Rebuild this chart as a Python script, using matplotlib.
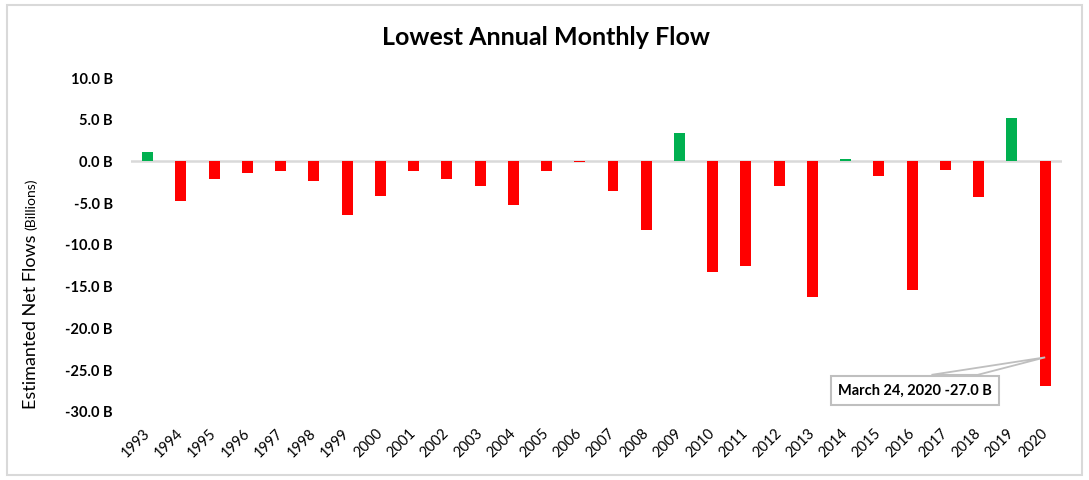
import numpy as np
import matplotlib
matplotlib.use('Agg')
import matplotlib.pyplot as plt
from matplotlib.patches import Rectangle

plt.rcParams['font.family'] = ['Lato', 'DejaVu Sans']

years = [str(y) for y in range(1993, 2021)]
flows = [1.0, -4.8, -2.2, -1.5, -1.2, -2.4, -6.5, -4.2, -1.2, -2.2,
         -3.1, -5.3, -1.3, -0.2, -3.6, -8.3, 3.3, -13.4, -12.6, -3.0,
         -16.4, 0.2, -1.8, -15.5, -1.1, -4.4, 5.1, -27.0]
yticks = [10, 5, 0, -5, -10, -15, -20, -25, -30]
note_text = 'March 24, 2020 -27.0 B'

colors = ['#00B050' if v > 0 else '#FF0000' for v in flows]
x = np.arange(len(years))

fig = plt.figure(figsize=(10.89, 4.81), dpi=100)
ax = fig.add_axes([0.1203, 0.1441, 0.8547, 0.6931])

ax.bar(x, flows, width=0.33, color=colors, zorder=3)
ax.axhline(0, color='#D9D9D9', linewidth=1.8, zorder=2)

ax.set_xlim(-0.5, len(years) - 0.5)
ax.set_ylim(-30, 10)
ax.set_yticks(yticks)
ax.set_yticklabels([f'{v:.1f} B' for v in yticks], fontweight='bold', fontsize=10.5)
ax.set_xticks(x)
ax.set_xticklabels(years, rotation=45, ha='right', va='center',
                   rotation_mode='anchor', fontsize=10.5)
ax.tick_params(axis='y', length=0, pad=13)
ax.tick_params(axis='x', length=0, pad=14)
for s in ax.spines.values():
    s.set_visible(False)

# callout for the 2020 low: pointer wedge + label box
ax.fill([23.58, x[-1], 24.97], [-25.7, -23.6, -25.7], fc='white',
        ec='#BFBFBF', lw=1.3, zorder=5)
ax.text(23.09, -27.55, note_text, ha='center', va='center', fontsize=10.5,
        fontweight='bold', zorder=6,
        bbox=dict(boxstyle='square,pad=0.5', fc='white', ec='#BFBFBF', lw=1.5))

fig.text(0.5013, 0.923, 'Lowest Annual Monthly Flow', ha='center', va='center',
         fontsize=18, fontweight='bold')
fig.text(0.0285, 1 - 409 / 481, 'Estimanted Net Flows', rotation=90,
         ha='center', va='bottom', fontsize=13)
fig.text(0.0285, 1 - 230 / 481, '(Billions)', rotation=90,
         ha='center', va='bottom', fontsize=10)

fig.patches.append(Rectangle((7 / 1089, 5 / 481), 1075 / 1089, 470 / 481,
                             transform=fig.transFigure, fill=False,
                             ec='#D9D9D9', lw=1.5))

plt.savefig('out.png', dpi=100)
